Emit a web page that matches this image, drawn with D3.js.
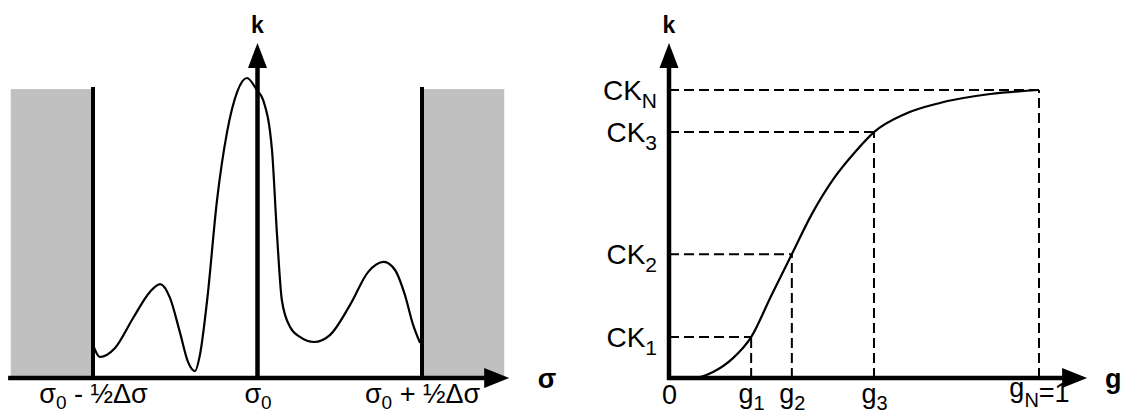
<!DOCTYPE html>
<html><head><meta charset="utf-8">
<script src="https://cdn.jsdelivr.net/npm/d3@7"></script>
<style>
body{margin:0;background:#fff}
svg{display:block}
text{font-family:"Liberation Sans",Arial,Helvetica,sans-serif;fill:#000}
</style>
</head><body>
<svg id="c" width="1122" height="413"></svg>
<script>
// ---------- LEFT PANEL DATA: absorption coefficient k over one spectral interval ----------
// sigma offset from sigma0, in units of delta-sigma
const sigmaOffset = [-0.500,-0.479,-0.433,-0.378,-0.327,-0.296,-0.266,-0.236,-0.211,-0.190,-0.175,-0.153,-0.123,-0.093,-0.062,-0.032,-0.002,0.017,0.044,0.059,0.074,0.099,0.129,0.172,0.220,0.281,0.336,0.384,0.418,0.448,0.473,0.494];
const kSigma      = [0.110,0.070,0.100,0.200,0.287,0.313,0.267,0.153,0.053,0.023,0.077,0.260,0.593,0.817,0.953,1.000,0.960,0.927,0.760,0.483,0.260,0.170,0.137,0.120,0.143,0.243,0.353,0.387,0.360,0.277,0.177,0.117];
const intervalEdges = [-0.5, 0.5];          // sigma0 -/+ half delta-sigma
const outsideBands  = [[-0.75,-0.5],[0.5,0.75]];
const bandTop = 0.963;
const leftTickValues = [-0.5, 0, 0.5];
const leftTickLabels = [
  [["σ"],["0","sub"],[" - ½Δσ"]],
  [["σ"],["0","sub"]],
  [["σ"],["0","sub"],[" + ½Δσ"]]
];
const leftXExtent = [-0.758, 0.765];
const leftYTip = 1.117;

// ---------- RIGHT PANEL DATA: cumulative k-distribution ----------
const gCum = [0, 0.065, 0.119, 0.173, 0.222, 0.276, 0.332, 0.386, 0.446, 0.503, 0.554, 0.638, 0.732, 0.868, 1.000];
const kCum = [0, 0.000, 0.021, 0.069, 0.142, 0.285, 0.430, 0.569, 0.694, 0.785, 0.854, 0.917, 0.955, 0.986, 1.000];
const gPoints  = [0.222, 0.332, 0.554, 1.000];
const ckPoints = [0.142, 0.430, 0.854, 1.000];
const ckLabels = [
  [["CK"],["1","sub"]],
  [["CK"],["2","sub"]],
  [["CK"],["3","sub"]],
  [["CK"],["N","sub"]]
];
const rightTickValues = [0, 0.222, 0.332, 0.554, 1.000];
const rightTickLabels = [
  [["0"]],
  [["g"],["1","sub"]],
  [["g"],["2","sub"]],
  [["g"],["3","sub"]],
  [["g"],["N","sub"],["=1","back"]]
];
const rightXTip = 1.13;
const rightYTip = 1.163;

// ---------- DRAW ----------
const svg = d3.select("#c");
const AX = 4.5, ARW = 25, ARH = 9.5;

function fillParts(sel, parts, size, subSize, shift){
  sel.text(null);
  let down = false;
  parts.forEach(p=>{
    const ts = sel.append("tspan").text(p[0]);
    if(p[1]==="sub"){ ts.attr("font-size",subSize).attr("dy",shift); down=true; }
    else if(p[1]==="back"){ ts.attr("font-size",size).attr("dy",-shift*0.5); down=false; }
    else { ts.attr("font-size",size); if(down){ ts.attr("dy",-shift); down=false; } }
  });
}
function arrowUp(x,yTip){ return `M${x},${yTip}L${x-ARH},${yTip+ARW}L${x+ARH},${yTip+ARW}Z`; }
function arrowRight(xTip,y){ return `M${xTip},${y}L${xTip-ARW},${y-ARH-0.5}L${xTip-ARW},${y+ARH+0.5}Z`; }

// Left scales
const xL = d3.scaleLinear().domain([-0.5,0.5]).range([93,422]);
const yL = d3.scaleLinear().domain([0,1]).range([378,78]);

const gL = svg.append("g");
gL.selectAll("rect.band").data(outsideBands).join("rect")
  .attr("x",d=>xL(d[0])).attr("width",d=>xL(d[1])-xL(d[0]))
  .attr("y",yL(bandTop)).attr("height",yL(0)-yL(bandTop))
  .attr("fill","#c0c0c0");

gL.selectAll("line.edge").data(intervalEdges).join("line")
  .attr("x1",d=>xL(d)).attr("x2",d=>xL(d))
  .attr("y1",yL(bandTop)-2).attr("y2",yL(0))
  .attr("stroke","#000").attr("stroke-width",4);

const lineL = d3.line().x((d,i)=>xL(sigmaOffset[i])).y(d=>yL(d)).curve(d3.curveMonotoneX);
gL.append("path").attr("d",lineL(kSigma)).attr("fill","none").attr("stroke","#000").attr("stroke-width",2.2);

// left axes
gL.append("line").attr("x1",xL(0)).attr("x2",xL(0)).attr("y1",yL(0)+2).attr("y2",yL(leftYTip)+ARW-1)
  .attr("stroke","#000").attr("stroke-width",AX);
gL.append("path").attr("d",arrowUp(xL(0),yL(leftYTip)));
gL.append("line").attr("x1",xL(leftXExtent[0])).attr("x2",xL(leftXExtent[1])-ARW+1).attr("y1",yL(0)).attr("y2",yL(0))
  .attr("stroke","#000").attr("stroke-width",AX);
gL.append("path").attr("d",arrowRight(xL(leftXExtent[1]),yL(0)));

const axL = d3.axisBottom(xL).tickValues(leftTickValues).tickSize(0).tickSizeOuter(0);
const axLg = gL.append("g").attr("transform",`translate(0,${yL(0)})`).call(axL);
axLg.select(".domain").remove();
axLg.attr("font-family",null).attr("font-size",null);
axLg.selectAll(".tick text").attr("y",25).attr("dy",null).attr("fill","#000")
  .each(function(d,i){ fillParts(d3.select(this), leftTickLabels[i], 27, 19, 6); });

gL.append("text").attr("x",xL(0)).attr("y",33).attr("text-anchor","middle")
  .attr("font-weight","bold").attr("font-size",23).text("k");
gL.append("text").attr("x",547).attr("y",388).attr("text-anchor","middle")
  .attr("font-weight","bold").attr("font-size",27).text("σ");

// Right scales
const xR = d3.scaleLinear().domain([0,1]).range([669,1039]);
const yR = d3.scaleLinear().domain([0,1]).range([378,90]);
const gR = svg.append("g");

// dashed guides
gR.selectAll("line.h").data(ckPoints).join("line")
  .attr("x1",xR(0)).attr("x2",(d,i)=>xR(gPoints[i]))
  .attr("y1",d=>yR(d)).attr("y2",d=>yR(d))
  .attr("stroke","#000").attr("stroke-width",2).attr("stroke-dasharray","10,5");
gR.selectAll("line.v").data(gPoints).join("line")
  .attr("x1",d=>xR(d)).attr("x2",d=>xR(d))
  .attr("y1",yR(0)).attr("y2",(d,i)=>yR(ckPoints[i]))
  .attr("stroke","#000").attr("stroke-width",2).attr("stroke-dasharray","10,5");

const lineR = d3.line().x((d,i)=>xR(gCum[i])).y(d=>yR(d)).curve(d3.curveMonotoneX);
gR.append("path").attr("d",lineR(kCum)).attr("fill","none").attr("stroke","#000").attr("stroke-width",2.2);

gR.append("line").attr("x1",xR(0)).attr("x2",xR(0)).attr("y1",yR(0)+2).attr("y2",yR(rightYTip)+ARW-1)
  .attr("stroke","#000").attr("stroke-width",AX);
gR.append("path").attr("d",arrowUp(xR(0),yR(rightYTip)));
gR.append("line").attr("x1",xR(0)-2).attr("x2",xR(rightXTip)-ARW+1).attr("y1",yR(0)).attr("y2",yR(0))
  .attr("stroke","#000").attr("stroke-width",AX);
gR.append("path").attr("d",arrowRight(xR(rightXTip),yR(0)));

const axRy = d3.axisLeft(yR).tickValues(ckPoints).tickSize(0).tickPadding(12);
const axRyg = gR.append("g").attr("transform",`translate(${xR(0)},0)`).call(axRy);
axRyg.select(".domain").remove();
axRyg.attr("font-family",null).attr("font-size",null);
axRyg.selectAll(".tick text").attr("dy",null).attr("y",9.5).attr("fill","#000")
  .each(function(d,i){ fillParts(d3.select(this), ckLabels[i], 28, 21, 8); });

const axRx = d3.axisBottom(xR).tickValues(rightTickValues).tickSize(0);
const axRxg = gR.append("g").attr("transform",`translate(0,${yR(0)})`).call(axRx);
axRxg.select(".domain").remove();
axRxg.attr("font-family",null).attr("font-size",null);
axRxg.selectAll(".tick text").attr("dy",null).attr("fill","#000")
  .attr("y",(d,i)=> i===0 ? 26 : (i===4 ? 19 : 25))
  .each(function(d,i){ fillParts(d3.select(this), rightTickLabels[i], 27, 20, i===4 ? 10 : 7); });

gR.append("text").attr("x",xR(0)).attr("y",33).attr("text-anchor","middle")
  .attr("font-weight","bold").attr("font-size",23).text("k");
gR.append("text").attr("x",1105).attr("y",388)
  .attr("font-weight","bold").attr("font-size",27).text("g");
</script>
</body></html>
